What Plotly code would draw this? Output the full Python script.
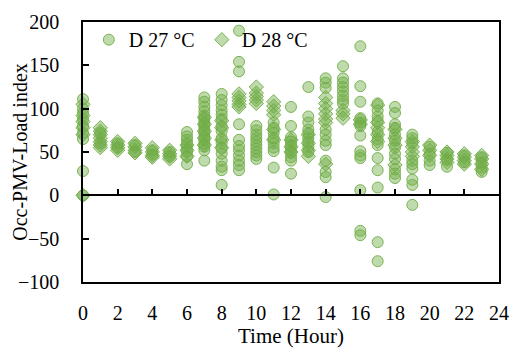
import plotly.graph_objects as go

hours = list(range(24))
x_ticks = list(range(0, 25, 2))
y_ticks = list(range(-100, 201, 50))

d27_values = [
    [111, 100, 95, 88, 80, 72, 65, 28, 0],
    [72, 60],
    [60, 55],
    [58, 50],
    [52, 47],
    [50, 45],
    [73, 68, 64, 60, 55, 50, 45, 36],
    [113, 108, 102, 97, 92, 88, 84, 80, 76, 72, 68, 64, 60, 56, 52, 40],
    [117, 110, 104, 98, 93, 88, 80, 74, 66, 60, 54, 48, 40, 33, 29, 12],
    [190, 154, 143, 82, 64, 57, 52, 46, 40, 35, 29],
    [80, 75, 70, 66, 62, 58, 54, 50, 46, 42],
    [84, 78, 72, 66, 60, 55, 51, 32, 1],
    [102, 80, 67, 62, 58, 53, 49, 44, 40, 25],
    [125, 91, 84, 76, 72, 66, 62, 56, 50],
    [135, 130, 124, 76, 70, 63, 58, 40, 27, 21, -2],
    [149, 135, 130, 125, 120, 115, 110, 106],
    [172, 126, 108, 89, 84, 80, 69, 51, 46, 43, 6, -41, -46],
    [106, 98, 91, 86, 73, 65, 58, 43, 29, 9, -54, -76],
    [102, 95, 82, 78, 70, 63, 55, 48, 42, 30, 25, 20],
    [70, 66, 60, 40, 36, 31, 18, 12, -11],
    [56, 48, 40, 35],
    [49, 41, 33],
    [46, 38],
    [44, 38, 32, 27],
]

d28_values = [
    [105, 92, 85, 78, 70, 0],
    [78, 74, 70, 66, 62, 58, 55],
    [62, 58, 55, 52],
    [60, 56, 52, 49],
    [55, 50, 46, 44],
    [52, 48, 45, 42],
    [58, 52, 45],
    [90, 82, 74, 66, 58],
    [86, 78, 64, 55],
    [117, 113, 109, 105, 102],
    [125, 118, 114, 110, 106],
    [108, 103, 98, 93, 76, 64],
    [64, 56, 50],
    [70, 60, 52, 45],
    [113, 106, 100, 94, 88, 84, 36],
    [98, 94, 89],
    [87, 82],
    [104, 84, 78, 70, 62],
    [76, 66, 58, 35],
    [62, 56, 50, 45],
    [58, 52, 46],
    [50, 46, 42, 38],
    [48, 44, 40, 36],
    [46, 42, 36, 30],
]


def flatten(values):
    xs, ys = [], []
    for h, vals in zip(hours, values):
        for v in vals:
            xs.append(h)
            ys.append(v)
    return xs, ys


FONT = "Liberation Serif, Times New Roman, serif"
fill = "rgba(112,173,71,0.45)"
edge = "rgba(112,173,71,0.9)"

fig = go.Figure()
x27, y27 = flatten(d27_values)
x28, y28 = flatten(d28_values)
fig.add_trace(go.Scatter(
    x=x27, y=y27, mode="markers", name="D 27 °C", cliponaxis=False,
    marker=dict(symbol="circle", size=11, color=fill, line=dict(color=edge, width=1)),
))
fig.add_trace(go.Scatter(
    x=x28, y=y28, mode="markers", name="D 28 °C", cliponaxis=False,
    marker=dict(symbol="diamond", size=11, color=fill, line=dict(color=edge, width=1)),
))
# empty helper trace so the zero-crossing axis (x2) is rendered
fig.add_trace(go.Scatter(
    x=[], y=[], xaxis="x2", yaxis="y", mode="markers", showlegend=False, hoverinfo="skip",
))

fig.update_layout(
    width=520, height=351,
    margin=dict(l=83, r=11, t=15, b=64),
    plot_bgcolor="white", paper_bgcolor="white",
    font=dict(family=FONT, size=20, color="black"),
    showlegend=True,
    legend=dict(
        orientation="h", x=0.014, y=0.932, xanchor="left", yanchor="middle",
        bgcolor="rgba(0,0,0,0)", font=dict(family=FONT, size=20, color="black"),
        entrywidth=68, entrywidthmode="pixels",
    ),
    xaxis=dict(
        range=[0, 24], tickvals=x_ticks, showline=True, linecolor="black", linewidth=1.5,
        mirror=True, ticks="", showgrid=False, zeroline=False, ticklabelstandoff=12,
        title=dict(text="Time (Hour)", font=dict(family=FONT, size=21), standoff=2),
    ),
    xaxis2=dict(
        overlaying="x", anchor="free", position=1/3, side="bottom",
        range=[0, 24], tickvals=x_ticks, ticks="inside", ticklen=6, tickwidth=1.5,
        tickcolor="black", showticklabels=False, showline=True, linecolor="black",
        linewidth=1.5, showgrid=False, zeroline=False,
    ),
    yaxis=dict(
        range=[-100, 200], tickvals=y_ticks, ticks="inside", ticklen=6, tickwidth=1.5,
        tickcolor="black", showline=True, linecolor="black", linewidth=1.5, mirror=True,
        showgrid=False, zeroline=False, ticklabelstandoff=18,
    ),
    annotations=[dict(
        text="Occ-PMV-Load index", textangle=-90, xref="paper", yref="paper",
        x=-0.152, y=0.5, xanchor="center", yanchor="middle", showarrow=False,
        font=dict(family=FONT, size=20, color="black"),
    )],
)

fig.write_html("out.html")
